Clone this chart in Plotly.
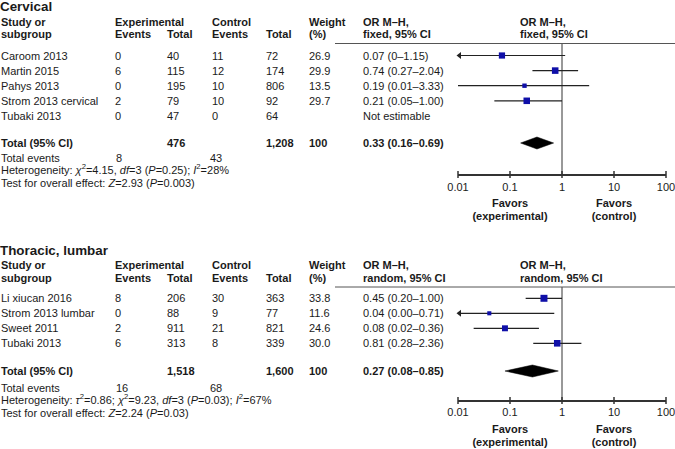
import math
import plotly.graph_objects as go

W, H = 675, 449
FONT = "Liberation Sans, Arial, sans-serif"
TXT = "#1a1a1a"
BLUE = "#0f0fa8"

# ---------------- data ----------------
cerv_title = "Cervical"
cerv_study = ["Caroom 2013", "Martin 2015", "Pahys 2013", "Strom 2013 cervical", "Tubaki 2013"]
cerv_exp_events = [0, 6, 0, 2, 0]
cerv_exp_total = [40, 115, 195, 79, 47]
cerv_ctl_events = [11, 12, 10, 10, 0]
cerv_ctl_total = [72, 174, 806, 92, 64]
cerv_weight = [26.9, 29.9, 13.5, 29.7, None]
cerv_or = [0.07, 0.74, 0.19, 0.21, None]
cerv_lo = [0.0, 0.27, 0.01, 0.05, None]
cerv_hi = [1.15, 2.04, 3.33, 1.00, None]
cerv_ci_text = ["0.07 (0–1.15)", "0.74 (0.27–2.04)", "0.19 (0.01–3.33)", "0.21 (0.05–1.00)", "Not estimable"]
cerv_total = [476, 1208, 100]
cerv_total_or = [0.33, 0.16, 0.69]
cerv_total_text = "0.33 (0.16–0.69)"
cerv_total_events = [8, 43]
cerv_method = "fixed, 95% CI"
cerv_het = "Heterogeneity: <i>χ</i><sup>2</sup>=4.15, <i>df</i>=3 (<i>P</i>=0.25); <i>I</i><sup>2</sup>=28%"
cerv_test = "Test for overall effect: <i>Z</i>=2.93 (<i>P</i>=0.003)"

tl_title = "Thoracic, lumbar"
tl_study = ["Li xiucan 2016", "Strom 2013 lumbar", "Sweet 2011", "Tubaki 2013"]
tl_exp_events = [8, 0, 2, 6]
tl_exp_total = [206, 88, 911, 313]
tl_ctl_events = [30, 9, 21, 8]
tl_ctl_total = [363, 77, 821, 339]
tl_weight = [33.8, 11.6, 24.6, 30.0]
tl_or = [0.45, 0.04, 0.08, 0.81]
tl_lo = [0.20, 0.00, 0.02, 0.28]
tl_hi = [1.00, 0.71, 0.36, 2.36]
tl_ci_text = ["0.45 (0.20–1.00)", "0.04 (0.00–0.71)", "0.08 (0.02–0.36)", "0.81 (0.28–2.36)"]
tl_total = [1518, 1600, 100]
tl_total_or = [0.27, 0.08, 0.85]
tl_total_text = "0.27 (0.08–0.85)"
tl_total_events = [16, 68]
tl_method = "random, 95% CI"
tl_het = "Heterogeneity: <i>τ</i><sup>2</sup>=0.86; <i>χ</i><sup>2</sup>=9.23, <i>df</i>=3 (<i>P</i>=0.03); <i>I</i><sup>2</sup>=67%"
tl_test = "Test for overall effect: <i>Z</i>=2.24 (<i>P</i>=0.03)"

tick_vals = [0.01, 0.1, 1, 10, 100]
tick_labels = ["0.01", "0.1", "1", "10", "100"]
favor_top = ["Favors", "Favors"]
favor_bottom = ["(experimental)", "(control)"]
favor_at = [0.1, 10]

# ---------------- layout geometry ----------------
X_ONE, PX_DEC = 562.0, 52.0
COL = dict(study=1, ee=115, et=167, ce=212, ct=266, w=309, orx=363, fh=520)

top_geo = dict(title=6.5, h1=21.5, h2=33.5, line=43.5, row0=55.5, step=15.1, total=143,
               te=157.5, het=169, test=182.5, axis=175, ticks=188, fav1=204, fav2=217)
bot_geo = dict(title=250, h1=264.5, h2=278.3, line=287, row0=298.3, step=15.0, total=371,
               te=387.5, het=399, test=413, axis=401, ticks=413.5, fav1=430, fav2=443)

fig = go.Figure()
annotations = []
shapes = []


def txt(x, y, s, bold=False, size=11, anchor="left"):
    annotations.append(dict(
        x=x / W, xref="paper", y=y, yref="y",
        text=f"<b>{s}</b>" if bold else s, showarrow=False,
        xanchor=anchor, yanchor="middle", borderpad=0, borderwidth=0,
        font=dict(family=FONT, size=size, color=TXT)))


def panel(g, title, study, ee, et, ce, ct, wt, orv, lo, hi, ci_text,
          total, total_or, total_text, total_events, method, het, test):
    txt(0, g["title"], title, bold=True, size=13.4)
    txt(COL["study"], g["h1"], "Study or", bold=True)
    txt(COL["study"], g["h2"], "subgroup", bold=True)
    txt(COL["ee"], g["h1"], "Experimental", bold=True)
    txt(COL["ee"], g["h2"], "Events", bold=True)
    txt(COL["et"], g["h2"], "Total", bold=True)
    txt(COL["ce"], g["h1"], "Control", bold=True)
    txt(COL["ce"], g["h2"], "Events", bold=True)
    txt(COL["ct"], g["h2"], "Total", bold=True)
    txt(COL["w"], g["h1"], "Weight", bold=True)
    txt(COL["w"], g["h2"], "(%)", bold=True)
    txt(COL["orx"], g["h1"], "OR M–H,", bold=True)
    txt(COL["orx"], g["h2"], method, bold=True)
    txt(COL["fh"], g["h1"], "OR M–H,", bold=True)
    txt(COL["fh"], g["h2"], method, bold=True)
    shapes.append(dict(type="line", xref="paper", yref="y", x0=335 / W, x1=1,
                       y0=g["line"], y1=g["line"], line=dict(color="#555", width=1)))

    ys = [g["row0"] + i * g["step"] for i in range(len(study))]
    for i, y in enumerate(ys):
        txt(COL["study"], y, study[i])
        txt(COL["ee"], y, str(ee[i]))
        txt(COL["et"], y, str(et[i]))
        txt(COL["ce"], y, str(ce[i]))
        txt(COL["ct"], y, str(ct[i]))
        if wt[i] is not None:
            txt(COL["w"], y, f"{wt[i]:.1f}")
        txt(COL["orx"], y, ci_text[i])

    # vertical line of no effect
    fig.add_trace(go.Scatter(x=[1, 1], y=[g["line"], g["axis"]], mode="lines",
                             line=dict(color="#333", width=1), hoverinfo="skip"))

    xmin = tick_vals[0]
    for i, y in enumerate(ys):
        if orv[i] is None:
            continue
        lo_d = max(lo[i], xmin)
        fig.add_trace(go.Scatter(x=[lo_d, hi[i]], y=[y, y], mode="lines",
                                 line=dict(color="#222", width=1.2), hoverinfo="skip"))
        if lo[i] < xmin:
            fig.add_trace(go.Scatter(x=[lo_d * 1.07], y=[y], mode="markers",
                                     marker=dict(symbol="triangle-left", size=6, color="#222"),
                                     hoverinfo="skip"))
        fig.add_trace(go.Scatter(x=[orv[i]], y=[y], mode="markers",
                                 marker=dict(symbol="square", size=1.2 * math.sqrt(wt[i]),
                                             color=BLUE, line=dict(width=0)),
                                 hoverinfo="skip"))

    # totals
    y = g["total"]
    txt(COL["study"], y, "Total (95% CI)", bold=True)
    txt(COL["et"], y, f"{total[0]:,}", bold=True)
    txt(COL["ct"], y, f"{total[1]:,}", bold=True)
    txt(COL["w"], y, f"{total[2]}", bold=True)
    txt(COL["orx"], y, total_text, bold=True)
    est, tlo, thi = total_or
    fig.add_trace(go.Scatter(x=[tlo, est, thi, est, tlo], y=[y, y - 6, y, y + 6, y],
                             mode="lines", fill="toself", fillcolor="#000",
                             line=dict(color="#000", width=0.5), hoverinfo="skip"))

    txt(COL["study"], g["te"], "Total events")
    txt(COL["ee"] + 1, g["te"], str(total_events[0]))
    txt(COL["ce"] - 2, g["te"], str(total_events[1]))
    txt(COL["study"], g["het"], het)
    txt(COL["study"], g["test"], test)

    # axis
    ax_y = g["axis"]
    fig.add_trace(go.Scatter(x=[tick_vals[0], tick_vals[-1]], y=[ax_y, ax_y], mode="lines",
                             line=dict(color="#333", width=2), hoverinfo="skip"))
    tx, ty = [], []
    for t in tick_vals:
        tx += [t, t, None]
        ty += [ax_y - 4, ax_y + 3, None]
    fig.add_trace(go.Scatter(x=tx, y=ty, mode="lines", line=dict(color="#333", width=1.5),
                             hoverinfo="skip"))
    fig.add_trace(go.Scatter(x=tick_vals, y=[g["ticks"]] * len(tick_vals), mode="text",
                             text=tick_labels, textposition="middle center",
                             textfont=dict(family=FONT, size=11, color=TXT), hoverinfo="skip"))
    fig.add_trace(go.Scatter(x=favor_at, y=[g["fav1"]] * 2, mode="text",
                             text=[f"<b>{s}</b>" for s in favor_top],
                             textposition="middle center",
                             textfont=dict(family=FONT, size=11, color=TXT), hoverinfo="skip"))
    fig.add_trace(go.Scatter(x=favor_at, y=[g["fav2"]] * 2, mode="text",
                             text=[f"<b>{s}</b>" for s in favor_bottom],
                             textposition="middle center",
                             textfont=dict(family=FONT, size=11, color=TXT), hoverinfo="skip"))


panel(top_geo, cerv_title, cerv_study, cerv_exp_events, cerv_exp_total, cerv_ctl_events,
      cerv_ctl_total, cerv_weight, cerv_or, cerv_lo, cerv_hi, cerv_ci_text, cerv_total,
      cerv_total_or, cerv_total_text, cerv_total_events, cerv_method, cerv_het, cerv_test)
panel(bot_geo, tl_title, tl_study, tl_exp_events, tl_exp_total, tl_ctl_events,
      tl_ctl_total, tl_weight, tl_or, tl_lo, tl_hi, tl_ci_text, tl_total,
      tl_total_or, tl_total_text, tl_total_events, tl_method, tl_het, tl_test)

fig.update_layout(
    width=W, height=H, margin=dict(l=0, r=0, t=0, b=0),
    paper_bgcolor="white", plot_bgcolor="white", showlegend=False,
    hovermode=False, annotations=annotations, shapes=shapes,
    xaxis=dict(type="log", range=[(0 - X_ONE) / PX_DEC, (W - X_ONE) / PX_DEC],
               visible=False, domain=[0, 1], fixedrange=True),
    yaxis=dict(range=[H, 0], visible=False, domain=[0, 1], fixedrange=True),
)

fig.write_html("out.html", config={"displayModeBar": False},
               post_script="document.body.style.margin='0';document.body.style.overflow='hidden';")
